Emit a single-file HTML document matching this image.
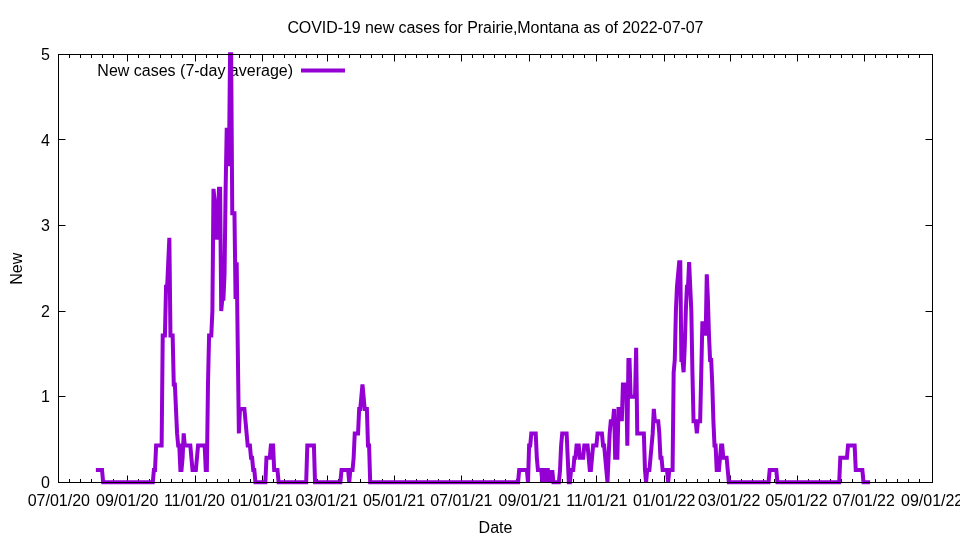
<!DOCTYPE html>
<html><head><meta charset="utf-8"><title>COVID-19 new cases for Prairie,Montana</title>
<style>
html,body{margin:0;padding:0;background:#fff;}
body{width:960px;height:540px;overflow:hidden;font-family:"Liberation Sans",sans-serif;}
svg{display:block;will-change:transform;}
text{font-family:"Liberation Sans",sans-serif;font-size:16px;fill:#000;filter:grayscale(1);}
</style></head><body>
<svg width="960" height="540" viewBox="0 0 960 540">
<rect x="0" y="0" width="960" height="540" fill="#ffffff"/>
<text x="495.4" y="33" text-anchor="middle" style="letter-spacing:-0.068px">COVID-19 new cases for Prairie,Montana as of 2022-07-07</text>
<text x="293" y="76" text-anchor="end">New cases (7-day average)</text>
<path d="M301 70.5H345" stroke="#9400d3" stroke-width="4" fill="none"/>
<path d="M127.5 482.5v-7.0M127.5 54.5v7.0M195.5 482.5v-7.0M195.5 54.5v7.0M262.5 482.5v-7.0M262.5 54.5v7.0M327.5 482.5v-7.0M327.5 54.5v7.0M394.5 482.5v-7.0M394.5 54.5v7.0M461.5 482.5v-7.0M461.5 54.5v7.0M529.5 482.5v-7.0M529.5 54.5v7.0M596.5 482.5v-7.0M596.5 54.5v7.0M664.5 482.5v-7.0M664.5 54.5v7.0M730.5 482.5v-7.0M730.5 54.5v7.0M797.5 482.5v-7.0M797.5 54.5v7.0M864.5 482.5v-7.0M864.5 54.5v7.0M69.5 482.5v-3.5M69.5 54.5v3.5M80.5 482.5v-3.5M80.5 54.5v3.5M91.5 482.5v-3.5M91.5 54.5v3.5M102.5 482.5v-3.5M102.5 54.5v3.5M113.5 482.5v-3.5M113.5 54.5v3.5M138.5 482.5v-3.5M138.5 54.5v3.5M149.5 482.5v-3.5M149.5 54.5v3.5M160.5 482.5v-3.5M160.5 54.5v3.5M171.5 482.5v-3.5M171.5 54.5v3.5M182.5 482.5v-3.5M182.5 54.5v3.5M206.5 482.5v-3.5M206.5 54.5v3.5M217.5 482.5v-3.5M217.5 54.5v3.5M228.5 482.5v-3.5M228.5 54.5v3.5M239.5 482.5v-3.5M239.5 54.5v3.5M250.5 482.5v-3.5M250.5 54.5v3.5M273.5 482.5v-3.5M273.5 54.5v3.5M284.5 482.5v-3.5M284.5 54.5v3.5M295.5 482.5v-3.5M295.5 54.5v3.5M306.5 482.5v-3.5M306.5 54.5v3.5M317.5 482.5v-3.5M317.5 54.5v3.5M338.5 482.5v-3.5M338.5 54.5v3.5M349.5 482.5v-3.5M349.5 54.5v3.5M360.5 482.5v-3.5M360.5 54.5v3.5M371.5 482.5v-3.5M371.5 54.5v3.5M382.5 482.5v-3.5M382.5 54.5v3.5M405.5 482.5v-3.5M405.5 54.5v3.5M416.5 482.5v-3.5M416.5 54.5v3.5M427.5 482.5v-3.5M427.5 54.5v3.5M438.5 482.5v-3.5M438.5 54.5v3.5M449.5 482.5v-3.5M449.5 54.5v3.5M472.5 482.5v-3.5M472.5 54.5v3.5M483.5 482.5v-3.5M483.5 54.5v3.5M494.5 482.5v-3.5M494.5 54.5v3.5M505.5 482.5v-3.5M505.5 54.5v3.5M516.5 482.5v-3.5M516.5 54.5v3.5M540.5 482.5v-3.5M540.5 54.5v3.5M551.5 482.5v-3.5M551.5 54.5v3.5M562.5 482.5v-3.5M562.5 54.5v3.5M573.5 482.5v-3.5M573.5 54.5v3.5M584.5 482.5v-3.5M584.5 54.5v3.5M607.5 482.5v-3.5M607.5 54.5v3.5M618.5 482.5v-3.5M618.5 54.5v3.5M629.5 482.5v-3.5M629.5 54.5v3.5M640.5 482.5v-3.5M640.5 54.5v3.5M652.5 482.5v-3.5M652.5 54.5v3.5M674.5 482.5v-3.5M674.5 54.5v3.5M686.5 482.5v-3.5M686.5 54.5v3.5M697.5 482.5v-3.5M697.5 54.5v3.5M708.5 482.5v-3.5M708.5 54.5v3.5M719.5 482.5v-3.5M719.5 54.5v3.5M741.5 482.5v-3.5M741.5 54.5v3.5M752.5 482.5v-3.5M752.5 54.5v3.5M763.5 482.5v-3.5M763.5 54.5v3.5M774.5 482.5v-3.5M774.5 54.5v3.5M785.5 482.5v-3.5M785.5 54.5v3.5M808.5 482.5v-3.5M808.5 54.5v3.5M819.5 482.5v-3.5M819.5 54.5v3.5M830.5 482.5v-3.5M830.5 54.5v3.5M841.5 482.5v-3.5M841.5 54.5v3.5M852.5 482.5v-3.5M852.5 54.5v3.5M875.5 482.5v-3.5M875.5 54.5v3.5M886.5 482.5v-3.5M886.5 54.5v3.5M897.5 482.5v-3.5M897.5 54.5v3.5M908.5 482.5v-3.5M908.5 54.5v3.5M919.5 482.5v-3.5M919.5 54.5v3.5M58.5 396.5h7.0M932.5 396.5h-7.0M58.5 311.5h7.0M932.5 311.5h-7.0M58.5 225.5h7.0M932.5 225.5h-7.0M58.5 139.5h7.0M932.5 139.5h-7.0M58.5 482.5h7.0M932.5 482.5h-7.0M58.5 54.5h7.0M932.5 54.5h-7.0M58.5 482.5v-7.0M932.5 482.5v-7.0M58.5 54.5v7.0M932.5 54.5v7.0" stroke="#000" stroke-width="1" fill="none"/>
<polyline points="95.86,470.07 96.52,470.07 97.62,470.07 98.73,470.07 99.83,470.07 100.93,470.07 102.04,470.07 103.14,482.30 104.24,482.30 105.35,482.30 106.45,482.30 107.56,482.30 108.66,482.30 109.76,482.30 110.87,482.30 111.97,482.30 113.07,482.30 114.18,482.30 115.28,482.30 116.38,482.30 117.49,482.30 118.59,482.30 119.69,482.30 120.80,482.30 121.90,482.30 123.01,482.30 124.11,482.30 125.21,482.30 126.32,482.30 127.42,482.30 128.52,482.30 129.63,482.30 130.73,482.30 131.83,482.30 132.94,482.30 134.04,482.30 135.14,482.30 136.25,482.30 137.35,482.30 138.45,482.30 139.56,482.30 140.66,482.30 141.77,482.30 142.87,482.30 143.97,482.30 145.08,482.30 146.18,482.30 147.28,482.30 148.39,482.30 149.49,482.30 150.59,482.30 151.70,482.30 152.80,482.30 153.90,470.07 155.01,470.07 156.11,445.61 157.21,445.61 158.32,445.61 159.42,445.61 160.53,445.61 161.63,445.61 162.73,335.56 163.84,335.56 164.94,335.56 166.04,286.64 167.15,286.64 168.25,262.19 169.35,237.73 170.46,335.56 171.56,335.56 172.66,335.56 173.77,384.47 174.87,384.47 175.97,408.93 177.08,433.39 178.18,445.61 179.29,445.61 180.39,470.07 181.49,470.07 182.60,457.84 183.70,433.39 184.80,445.61 185.91,445.61 187.01,445.61 188.11,445.61 189.22,445.61 190.32,445.61 191.42,457.84 192.53,470.07 193.63,470.07 194.73,470.07 195.84,470.07 196.94,457.84 198.05,445.61 199.15,445.61 200.25,445.61 201.36,445.61 202.46,445.61 203.56,445.61 204.67,445.61 205.77,470.07 206.87,470.07 207.98,384.47 209.08,335.56 210.18,335.56 211.29,335.56 212.39,311.10 213.49,188.81 214.60,201.04 215.70,237.73 216.81,237.73 217.91,213.27 219.01,188.81 220.12,188.81 221.22,311.10 222.32,298.87 223.43,298.87 224.53,274.41 225.63,188.81 226.74,127.67 227.84,164.36 228.94,164.36 230.05,54.30 231.15,54.30 232.26,213.27 233.36,213.27 234.46,213.27 235.57,298.87 236.67,262.19 237.77,347.79 238.88,433.39 239.98,408.93 241.08,408.93 242.19,408.93 243.29,408.93 244.39,408.93 245.50,421.16 246.60,433.39 247.70,445.61 248.81,445.61 249.91,445.61 251.02,457.84 252.12,457.84 253.22,470.07 254.33,470.07 255.43,482.30 256.53,482.30 257.64,482.30 258.74,482.30 259.84,482.30 260.95,482.30 262.05,482.30 263.15,482.30 264.26,482.30 265.36,482.30 266.46,457.84 267.57,457.84 268.67,457.84 269.78,457.84 270.88,445.61 271.98,445.61 273.09,445.61 274.19,470.07 275.29,470.07 276.40,470.07 277.50,470.07 278.60,482.30 279.71,482.30 280.81,482.30 281.91,482.30 283.02,482.30 284.12,482.30 285.22,482.30 286.33,482.30 287.43,482.30 288.54,482.30 289.64,482.30 290.74,482.30 291.85,482.30 292.95,482.30 294.05,482.30 295.16,482.30 296.26,482.30 297.36,482.30 298.47,482.30 299.57,482.30 300.67,482.30 301.78,482.30 302.88,482.30 303.98,482.30 305.09,482.30 306.19,482.30 307.30,445.61 308.40,445.61 309.50,445.61 310.61,445.61 311.71,445.61 312.81,445.61 313.92,445.61 315.02,482.30 316.12,482.30 317.23,482.30 318.33,482.30 319.43,482.30 320.54,482.30 321.64,482.30 322.74,482.30 323.85,482.30 324.95,482.30 326.06,482.30 327.16,482.30 328.26,482.30 329.37,482.30 330.47,482.30 331.57,482.30 332.68,482.30 333.78,482.30 334.88,482.30 335.99,482.30 337.09,482.30 338.19,482.30 339.30,482.30 340.40,482.30 341.51,470.07 342.61,470.07 343.71,470.07 344.82,470.07 345.92,470.07 347.02,470.07 348.13,470.07 349.23,482.30 350.33,470.07 351.44,470.07 352.54,470.07 353.64,457.84 354.75,433.39 355.85,433.39 356.95,433.39 358.06,433.39 359.16,408.93 360.27,408.93 361.37,396.70 362.47,384.47 363.58,396.70 364.68,408.93 365.78,408.93 366.89,408.93 367.99,445.61 369.09,445.61 370.20,482.30 371.30,482.30 372.40,482.30 373.51,482.30 374.61,482.30 375.71,482.30 376.82,482.30 377.92,482.30 379.03,482.30 380.13,482.30 381.23,482.30 382.34,482.30 383.44,482.30 384.54,482.30 385.65,482.30 386.75,482.30 387.85,482.30 388.96,482.30 390.06,482.30 391.16,482.30 392.27,482.30 393.37,482.30 394.47,482.30 395.58,482.30 396.68,482.30 397.79,482.30 398.89,482.30 399.99,482.30 401.10,482.30 402.20,482.30 403.30,482.30 404.41,482.30 405.51,482.30 406.61,482.30 407.72,482.30 408.82,482.30 409.92,482.30 411.03,482.30 412.13,482.30 413.23,482.30 414.34,482.30 415.44,482.30 416.55,482.30 417.65,482.30 418.75,482.30 419.86,482.30 420.96,482.30 422.06,482.30 423.17,482.30 424.27,482.30 425.37,482.30 426.48,482.30 427.58,482.30 428.68,482.30 429.79,482.30 430.89,482.30 431.99,482.30 433.10,482.30 434.20,482.30 435.31,482.30 436.41,482.30 437.51,482.30 438.62,482.30 439.72,482.30 440.82,482.30 441.93,482.30 443.03,482.30 444.13,482.30 445.24,482.30 446.34,482.30 447.44,482.30 448.55,482.30 449.65,482.30 450.76,482.30 451.86,482.30 452.96,482.30 454.07,482.30 455.17,482.30 456.27,482.30 457.38,482.30 458.48,482.30 459.58,482.30 460.69,482.30 461.79,482.30 462.89,482.30 464.00,482.30 465.10,482.30 466.20,482.30 467.31,482.30 468.41,482.30 469.52,482.30 470.62,482.30 471.72,482.30 472.83,482.30 473.93,482.30 475.03,482.30 476.14,482.30 477.24,482.30 478.34,482.30 479.45,482.30 480.55,482.30 481.65,482.30 482.76,482.30 483.86,482.30 484.96,482.30 486.07,482.30 487.17,482.30 488.28,482.30 489.38,482.30 490.48,482.30 491.59,482.30 492.69,482.30 493.79,482.30 494.90,482.30 496.00,482.30 497.10,482.30 498.21,482.30 499.31,482.30 500.41,482.30 501.52,482.30 502.62,482.30 503.72,482.30 504.83,482.30 505.93,482.30 507.04,482.30 508.14,482.30 509.24,482.30 510.35,482.30 511.45,482.30 512.55,482.30 513.66,482.30 514.76,482.30 515.86,482.30 516.97,482.30 518.07,482.30 519.17,470.07 520.28,470.07 521.38,470.07 522.48,470.07 523.59,470.07 524.69,470.07 525.80,470.07 526.90,470.07 528.00,482.30 529.11,445.61 530.21,445.61 531.31,433.39 532.42,433.39 533.52,433.39 534.62,433.39 535.73,433.39 536.83,457.84 537.93,470.07 539.04,470.07 540.14,470.07 541.24,470.07 542.35,482.30 543.45,470.07 544.56,470.07 545.66,482.30 546.76,470.07 547.87,470.07 548.97,482.30 550.07,470.07 551.18,482.30 552.28,470.07 553.38,482.30 554.49,482.30 555.59,482.30 556.69,482.30 557.80,482.30 558.90,482.30 560.01,470.07 561.11,445.61 562.21,433.39 563.32,433.39 564.42,433.39 565.52,433.39 566.63,433.39 567.73,457.84 568.83,482.30 569.94,482.30 571.04,470.07 572.14,470.07 573.25,470.07 574.35,457.84 575.45,457.84 576.56,445.61 577.66,445.61 578.77,445.61 579.87,457.84 580.97,457.84 582.08,457.84 583.18,457.84 584.28,445.61 585.39,445.61 586.49,445.61 587.59,445.61 588.70,457.84 589.80,470.07 590.90,470.07 592.01,457.84 593.11,445.61 594.21,445.61 595.32,445.61 596.42,445.61 597.53,433.39 598.63,433.39 599.73,433.39 600.84,433.39 601.94,433.39 603.04,445.61 604.15,445.61 605.25,457.84 606.35,470.07 607.46,482.30 608.56,457.84 609.66,433.39 610.77,421.16 611.87,421.16 612.97,421.16 614.08,408.93 615.18,457.84 616.29,457.84 617.39,457.84 618.49,408.93 619.60,408.93 620.70,408.93 621.80,421.16 622.91,384.47 624.01,384.47 625.11,384.47 626.22,384.47 627.32,445.61 628.42,360.01 629.53,360.01 630.63,396.70 631.73,396.70 632.84,396.70 633.94,396.70 635.05,396.70 636.15,347.79 637.25,433.39 638.36,433.39 639.46,433.39 640.56,433.39 641.67,433.39 642.77,433.39 643.87,433.39 644.98,470.07 646.08,482.30 647.18,470.07 648.29,470.07 649.39,470.07 650.49,457.84 651.60,445.61 652.70,433.39 653.81,408.93 654.91,421.16 656.01,421.16 657.12,421.16 658.22,421.16 659.32,433.39 660.43,457.84 661.53,457.84 662.63,470.07 663.74,470.07 664.84,470.07 665.94,470.07 667.05,470.07 668.15,482.30 669.26,470.07 670.36,470.07 671.46,470.07 672.57,470.07 673.67,372.24 674.77,360.01 675.88,311.10 676.98,286.64 678.08,274.41 679.19,262.19 680.29,262.19 681.39,360.01 682.50,360.01 683.60,372.24 684.70,347.79 685.81,311.10 686.91,286.64 688.02,286.64 689.12,262.19 690.22,286.64 691.33,311.10 692.43,372.24 693.53,421.16 694.64,421.16 695.74,421.16 696.84,433.39 697.95,421.16 699.05,421.16 700.15,421.16 701.26,372.24 702.36,323.33 703.46,323.33 704.57,323.33 705.67,335.56 706.78,274.41 707.88,298.87 708.98,335.56 710.09,360.01 711.19,360.01 712.29,384.47 713.40,421.16 714.50,445.61 715.60,445.61 716.71,470.07 717.81,470.07 718.91,470.07 720.02,457.84 721.12,445.61 722.22,445.61 723.33,457.84 724.43,457.84 725.54,457.84 726.64,457.84 727.74,470.07 728.85,482.30 729.95,482.30 731.05,482.30 732.16,482.30 733.26,482.30 734.36,482.30 735.47,482.30 736.57,482.30 737.67,482.30 738.78,482.30 739.88,482.30 740.98,482.30 742.09,482.30 743.19,482.30 744.30,482.30 745.40,482.30 746.50,482.30 747.61,482.30 748.71,482.30 749.81,482.30 750.92,482.30 752.02,482.30 753.12,482.30 754.23,482.30 755.33,482.30 756.43,482.30 757.54,482.30 758.64,482.30 759.74,482.30 760.85,482.30 761.95,482.30 763.06,482.30 764.16,482.30 765.26,482.30 766.37,482.30 767.47,482.30 768.57,482.30 769.68,470.07 770.78,470.07 771.88,470.07 772.99,470.07 774.09,470.07 775.19,470.07 776.30,470.07 777.40,482.30 778.51,482.30 779.61,482.30 780.71,482.30 781.82,482.30 782.92,482.30 784.02,482.30 785.13,482.30 786.23,482.30 787.33,482.30 788.44,482.30 789.54,482.30 790.64,482.30 791.75,482.30 792.85,482.30 793.95,482.30 795.06,482.30 796.16,482.30 797.27,482.30 798.37,482.30 799.47,482.30 800.58,482.30 801.68,482.30 802.78,482.30 803.89,482.30 804.99,482.30 806.09,482.30 807.20,482.30 808.30,482.30 809.40,482.30 810.51,482.30 811.61,482.30 812.71,482.30 813.82,482.30 814.92,482.30 816.03,482.30 817.13,482.30 818.23,482.30 819.34,482.30 820.44,482.30 821.54,482.30 822.65,482.30 823.75,482.30 824.85,482.30 825.96,482.30 827.06,482.30 828.16,482.30 829.27,482.30 830.37,482.30 831.47,482.30 832.58,482.30 833.68,482.30 834.79,482.30 835.89,482.30 836.99,482.30 838.10,482.30 839.20,482.30 840.30,457.84 841.41,457.84 842.51,457.84 843.61,457.84 844.72,457.84 845.82,457.84 846.92,457.84 848.03,445.61 849.13,445.61 850.23,445.61 851.34,445.61 852.44,445.61 853.55,445.61 854.65,445.61 855.75,470.07 856.86,470.07 857.96,470.07 859.06,470.07 860.17,470.07 861.27,470.07 862.37,470.07 863.48,482.30 864.58,482.30 865.68,482.30 866.79,482.30 867.89,482.30 868.99,482.30 870.10,482.30" fill="none" stroke="#9400d3" stroke-width="4" stroke-linejoin="miter" stroke-miterlimit="10" stroke-linecap="butt"/>
<rect x="58.5" y="54.5" width="874.0" height="428.0" fill="none" stroke="#000" stroke-width="1" shape-rendering="crispEdges"/>
<text x="58.80" y="505.5" text-anchor="middle">07/01/20</text><text x="127.17" y="505.5" text-anchor="middle">09/01/20</text><text x="194.43" y="505.5" text-anchor="middle">11/01/20</text><text x="261.70" y="505.5" text-anchor="middle">01/01/21</text><text x="326.76" y="505.5" text-anchor="middle">03/01/21</text><text x="394.02" y="505.5" text-anchor="middle">05/01/21</text><text x="461.29" y="505.5" text-anchor="middle">07/01/21</text><text x="529.65" y="505.5" text-anchor="middle">09/01/21</text><text x="596.92" y="505.5" text-anchor="middle">11/01/21</text><text x="664.18" y="505.5" text-anchor="middle">01/01/22</text><text x="729.24" y="505.5" text-anchor="middle">03/01/22</text><text x="796.51" y="505.5" text-anchor="middle">05/01/22</text><text x="863.77" y="505.5" text-anchor="middle">07/01/22</text><text x="932.14" y="505.5" text-anchor="middle">09/01/22</text>
<text x="50" y="488.0" text-anchor="end">0</text><text x="50" y="402.4" text-anchor="end">1</text><text x="50" y="316.8" text-anchor="end">2</text><text x="50" y="231.2" text-anchor="end">3</text><text x="50" y="145.6" text-anchor="end">4</text><text x="50" y="60.0" text-anchor="end">5</text>
<text x="495.5" y="533" text-anchor="middle">Date</text>
<text transform="translate(22,268.7) rotate(-90)" text-anchor="middle">New</text>
</svg>
</body></html>
